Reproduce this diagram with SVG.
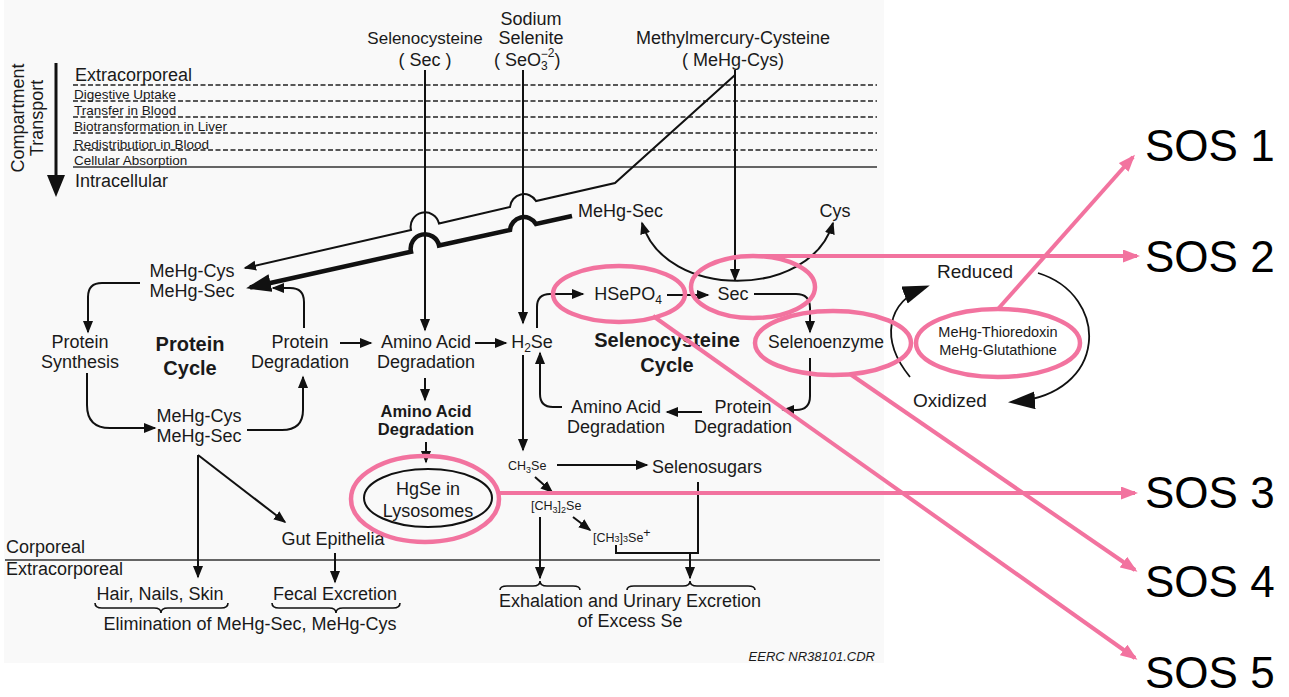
<svg xmlns="http://www.w3.org/2000/svg" width="1289" height="697" viewBox="0 0 1289 697">
<style>
text{font-family:"Liberation Sans",Arial,sans-serif;font-size:18px;fill:#1a1a1a}
.m{text-anchor:middle}
.b{font-weight:bold}
.sm{font-size:13.5px}
.xs{font-size:12.5px}
.sos{font-size:44px;fill:#000}
.c{fill:none;stroke:#111;stroke-width:2}
.th{fill:none;stroke:#111;stroke-width:4.5}
.p{fill:none;stroke:#f2739f;stroke-width:4}
.pe{fill:none;stroke:#f2739f;stroke-width:4.5}
.d{stroke:#222;stroke-width:1.6;stroke-dasharray:5 2.5}
.s{stroke:#333;stroke-width:1.4}
</style>
<defs>
<marker id="ah" markerUnits="userSpaceOnUse" markerWidth="14" markerHeight="12" refX="11" refY="5.5" orient="auto"><path d="M0,0.5 L12.5,5.5 L0,10.5 z" fill="#111"/></marker>
<marker id="ahs" markerUnits="userSpaceOnUse" markerWidth="14" markerHeight="12" refX="11" refY="5.5" orient="auto-start-reverse"><path d="M0,0.5 L12.5,5.5 L0,10.5 z" fill="#111"/></marker>
<marker id="ahb" markerUnits="userSpaceOnUse" markerWidth="26" markerHeight="20" refX="21" refY="9" orient="auto"><path d="M0,0 L25,9 L0,18 z" fill="#111"/></marker>
<marker id="ahc" markerUnits="userSpaceOnUse" markerWidth="28" markerHeight="20" refX="23" refY="9" orient="auto"><path d="M0,0 L27,9 L0,18 z" fill="#111"/></marker>
<marker id="ahp" markerUnits="userSpaceOnUse" markerWidth="18" markerHeight="14" refX="14" refY="6.5" orient="auto"><path d="M0,0 L17,6.5 L0,13 z" fill="#f2739f"/></marker>
</defs>
<rect x="0" y="0" width="1289" height="697" fill="#fff"/>
<rect x="4" y="0" width="880" height="663" fill="#f9f9f9"/>

<g id="compartments">
<line class="d" x1="73" y1="85" x2="877" y2="85"/>
<line class="d" x1="73" y1="101" x2="877" y2="101"/>
<line class="d" x1="73" y1="117" x2="877" y2="117"/>
<line class="d" x1="73" y1="133" x2="877" y2="133"/>
<line class="d" x1="73" y1="150" x2="877" y2="150"/>
<line class="s" x1="73" y1="167" x2="877" y2="167"/>
<line class="s" x1="5" y1="560" x2="880" y2="560"/>
<text x="75" y="81">Extracorporeal</text>
<text class="sm" x="74" y="99">Digestive Uptake</text>
<text class="sm" x="74" y="115">Transfer in Blood</text>
<text class="sm" x="74" y="131">Biotransformation in Liver</text>
<text class="sm" x="74" y="148.5">Redistribution in Blood</text>
<text class="sm" x="74" y="164.5">Cellular Absorption</text>
<text x="75" y="187">Intracellular</text>
<text x="6" y="553">Corporeal</text>
<text x="6" y="575">Extracorporeal</text>
<text class="m" transform="translate(24,118) rotate(-90)">Compartment</text>
<text class="m" transform="translate(43,118) rotate(-90)">Transport</text>
<line x1="56" y1="63" x2="56" y2="178" stroke="#111" stroke-width="3"/>
<polygon points="47,175 65,175 56,197" fill="#111"/>
</g>

<g id="sources">
<text class="m" x="425" y="44" style="font-size:17px">Selenocysteine</text>
<text class="m" x="425" y="66">( Sec )</text>
<text class="m" x="531" y="25">Sodium</text>
<text class="m" x="531" y="44">Selenite</text>
<text x="494" y="66">( SeO<tspan font-size="12" dy="4">3</tspan><tspan font-size="12" dx="-7" dy="-12">−</tspan><tspan font-size="12" dy="-1">2</tspan><tspan dy="9">)</tspan></text>
<text class="m" x="733" y="44">Methylmercury-Cysteine</text>
<text class="m" x="733" y="66">( MeHg-Cys)</text>
</g>

<g id="protein-cycle">
<text class="m" x="192" y="277">MeHg-Cys</text>
<text class="m" x="192" y="297">MeHg-Sec</text>
<text class="m" x="80" y="348">Protein</text>
<text class="m" x="80" y="368">Synthesis</text>
<text class="m b" x="190" y="351" style="font-size:20px">Protein</text>
<text class="m b" x="190" y="375" style="font-size:20px">Cycle</text>
<text class="m" x="300" y="348">Protein</text>
<text class="m" x="300" y="368">Degradation</text>
<text class="m" x="199" y="422">MeHg-Cys</text>
<text class="m" x="199" y="442">MeHg-Sec</text>
</g>

<g id="amino-acid">
<text class="m" x="426" y="348">Amino Acid</text>
<text class="m" x="426" y="368">Degradation</text>
<text class="m b" x="426" y="417" style="font-size:16.5px">Amino Acid</text>
<text class="m b" x="426" y="435" style="font-size:16.5px">Degradation</text>
</g>

<g id="hgse">
<ellipse cx="428" cy="498" rx="64" ry="29" fill="none" stroke="#111" stroke-width="2"/>
<text class="m" x="428" y="495">HgSe in</text>
<text class="m" x="428" y="517">Lysosomes</text>
</g>

<g id="elimination">
<text class="m" x="333" y="545">Gut Epithelia</text>
<text class="m" x="160" y="600">Hair, Nails, Skin</text>
<text class="m" x="335" y="600">Fecal Excretion</text>
<text class="m" x="250" y="630">Elimination of MeHg-Sec, MeHg-Cys</text>
<path class="c" style="stroke-width:1.6" d="M95,603 Q95,608 102,608 H154 Q161,608 161,613 Q161,608 168,608 H221 Q228,608 228,603"/>
<path class="c" style="stroke-width:1.6" d="M272,603 Q272,608 279,608 H329 Q336,608 336,613 Q336,608 343,608 H393 Q400,608 400,603"/>
</g>

<g id="selenocysteine-cycle">
<text x="578" y="217">MeHg-Sec</text>
<text class="m" x="835" y="217">Cys</text>
<text class="m" x="628" y="300">HSePO<tspan font-size="12" dy="4">4</tspan></text>
<text class="m" x="733" y="300">Sec</text>
<text class="m" x="532" y="348">H<tspan font-size="12" dy="4">2</tspan><tspan dy="-4">Se</tspan></text>
<text class="m b" x="667" y="347" style="font-size:20px">Selenocysteine</text>
<text class="m b" x="667" y="372" style="font-size:20px">Cycle</text>
<text class="m" x="826" y="348" style="font-size:17.5px">Selenoenzyme</text>
<text class="m" x="743" y="413">Protein</text>
<text class="m" x="743" y="433">Degradation</text>
<text class="m" x="616" y="413">Amino Acid</text>
<text class="m" x="616" y="433">Degradation</text>
</g>

<g id="methylation">
<text class="xs" x="508" y="470">CH<tspan font-size="9" dy="3">3</tspan><tspan dy="-3">Se</tspan></text>
<text x="652" y="473">Selenosugars</text>
<text class="xs" x="531" y="510">[CH<tspan font-size="9" dy="3">3</tspan><tspan dy="-3">]</tspan><tspan font-size="9" dy="3">2</tspan><tspan dy="-3">Se</tspan></text>
<text class="xs" x="593" y="542">[CH<tspan font-size="9">3</tspan>]<tspan font-size="9">3</tspan>Se<tspan dy="-5">+</tspan></text>
<text class="m" x="630" y="607">Exhalation and Urinary Excretion</text>
<text class="m" x="630" y="627">of Excess Se</text>
<path class="c" style="stroke-width:1.6" d="M500,590 Q500,586 507,586 H533 Q540,586 540,581 Q540,586 547,586 H573 Q580,586 580,590"/>
<path class="c" style="stroke-width:1.6" d="M627,590 Q627,586 634,586 H683 Q690,586 690,581 Q690,586 697,586 H748 Q755,586 755,590"/>
</g>

<g id="redox">
<text x="937" y="278" style="font-size:19px">Reduced</text>
<text x="913" y="407" style="font-size:19px">Oxidized</text>
<text class="m" x="998" y="337" style="font-size:14.5px">MeHg-Thioredoxin</text>
<text class="m" x="998" y="355" style="font-size:14.5px">MeHg-Glutathione</text>
</g>

<g id="credit">
<text x="875" y="661" style="font-size:13px;font-style:italic;text-anchor:end">EERC NR38101.CDR</text>
</g>

<g id="sos">
<text class="sos" x="1145" y="161">SOS 1</text>
<text class="sos" x="1145" y="272">SOS 2</text>
<text class="sos" x="1145" y="508">SOS 3</text>
<text class="sos" x="1145" y="597">SOS 4</text>
<text class="sos" x="1145" y="688">SOS 5</text>
</g>

<g id="connectors">
<path class="c" d="M425,70 V330" marker-end="url(#ah)"/>
<path class="c" d="M523,70 V323" marker-end="url(#ah)"/>
<path class="c" d="M735,70 V280" marker-end="url(#ah)"/>
<path class="c" d="M735,75 L615,183 L536,201 A14,14 0 0 0 510,207 L439,223.5 A14,14 0 0 0 411,230 L245,268" marker-end="url(#ah)"/>
<path class="th" d="M572,216 L536,224 A14,14 0 0 0 510,230 L439,245.5 A14,14 0 0 0 411,251.7 L250,287.5" marker-end="url(#ahb)"/>
<path class="c" d="M140,283 H102 Q88,283 88,297 V332" marker-end="url(#ah)"/>
<path class="c" d="M87,373 V405 Q87,428 110,428 H155" marker-end="url(#ah)"/>
<path class="c" d="M247,430 H282 Q303,430 303,410 V377" marker-end="url(#ah)"/>
<path class="c" d="M304,328 V302 Q304,288 290,288 H273" marker-end="url(#ah)"/>
<path class="c" d="M340,343 H371" marker-end="url(#ah)"/>
<path class="c" d="M425,378 V400" marker-end="url(#ah)"/>
<path class="c" d="M426,442 V462" marker-end="url(#ah)"/>
<path class="c" d="M198,455 V577" marker-end="url(#ah)"/>
<path class="c" d="M198,455 L285,522" marker-end="url(#ah)"/>
<path class="c" d="M335,553 V582" marker-end="url(#ah)"/>
<path class="c" d="M475,343 H506" marker-end="url(#ah)"/>
<path class="c" d="M537,328 V307 Q537,294 550,294 H583" marker-end="url(#ah)"/>
<path class="c" d="M667,295 H708" marker-end="url(#ah)"/>
<path class="c" d="M754,294 H796 Q810,294 810,308 V332" marker-end="url(#ah)"/>
<path class="c" d="M642,223 C665,300 810,300 833,223" marker-start="url(#ahs)" marker-end="url(#ah)"/>
<path class="c" d="M810,358 V396 Q810,410 796,410 H783" marker-end="url(#ah)"/>
<path class="c" d="M702,412 H667" marker-end="url(#ah)"/>
<path class="c" d="M562,407 H553 Q540,407 540,394 V353" marker-end="url(#ah)"/>
<path class="c" d="M523,355 V450" marker-end="url(#ah)"/>
<path class="c" d="M557,465 H647" marker-end="url(#ah)"/>
<path class="c" d="M535,477 L552,492" marker-end="url(#ah)"/>
<path class="c" d="M573,517 L590,530" marker-end="url(#ah)"/>
<path class="c" d="M540,517 V578" marker-end="url(#ah)"/>
<path class="c" d="M698,482 V553 H616 V545"/>
<path class="c" d="M690,553 V578" marker-end="url(#ah)"/>
<path class="c" style="stroke-width:1.8" d="M910,377 C880,340 886,302 926,287" marker-end="url(#ahc)"/>
<path class="c" style="stroke-width:1.8" d="M1038,273 C1110,295 1110,395 1012,402" marker-end="url(#ahc)"/>
</g>

<g id="highlights">
<ellipse class="pe" cx="619" cy="294" rx="66" ry="28"/>
<ellipse class="pe" cx="753" cy="287" rx="62" ry="31"/>
<ellipse class="pe" cx="833" cy="343" rx="78" ry="32"/>
<ellipse class="pe" cx="998" cy="343" rx="82" ry="34"/>
<ellipse class="pe" cx="425" cy="499" rx="74" ry="43"/>
<path class="p" d="M998,309 L1133,157" marker-end="url(#ahp)"/>
<path class="p" d="M755,256 H1137" marker-end="url(#ahp)"/>
<path class="p" d="M499,493 H1135" marker-end="url(#ahp)"/>
<path class="p" d="M850,374 L1135,570" marker-end="url(#ahp)"/>
<path class="p" d="M653,316 L1135,658" marker-end="url(#ahp)"/>
</g>
</svg>
